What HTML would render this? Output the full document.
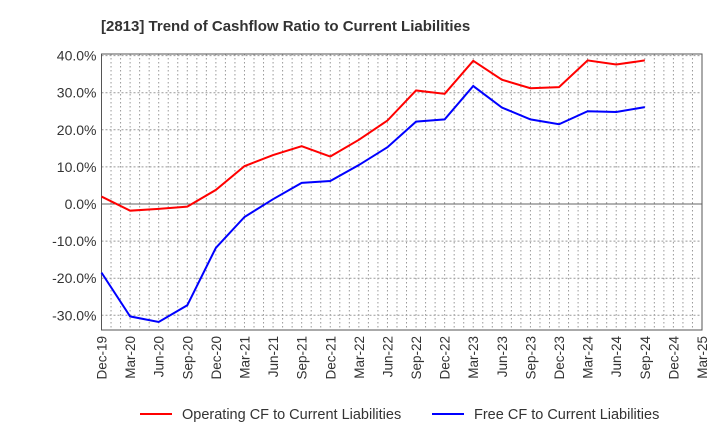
<!DOCTYPE html>
<html><head><meta charset="utf-8"><style>
body{margin:0;background:#fff;font-family:"Liberation Sans",sans-serif}
</style></head><body>
<svg width="720" height="440" xmlns="http://www.w3.org/2000/svg">
<text x="101" y="31" font-size="15" font-weight="bold" fill="#333">[2813]  Trend of Cashflow Ratio to Current Liabilities</text>
<g id="grid"></g><g id="axes"></g><g id="series"></g>
<g>
<line x1="140" y1="414" x2="172" y2="414" stroke="#f00" stroke-width="2"/>
<text x="182" y="419" font-size="14.5" fill="#333">Operating CF to Current Liabilities</text>
<line x1="432" y1="414" x2="464" y2="414" stroke="#00f" stroke-width="2"/>
<text x="474" y="419" font-size="14.5" fill="#333">Free CF to Current Liabilities</text>
</g>
</svg>
<script>
const categories=["Dec-19","Mar-20","Jun-20","Sep-20","Dec-20","Mar-21","Jun-21","Sep-21","Dec-21","Mar-22","Jun-22","Sep-22","Dec-22","Mar-23","Jun-23","Sep-23","Dec-23","Mar-24","Jun-24","Sep-24","Dec-24","Mar-25"];
const operatingCF=[2.0,-1.8,-1.3,-0.7,3.8,10.2,13.2,15.6,12.8,17.3,22.5,30.6,29.7,38.6,33.5,31.2,31.5,38.7,37.6,38.7];
const freeCF=[-18.5,-30.3,-31.8,-27.3,-11.8,-3.5,1.3,5.7,6.2,10.5,15.3,22.2,22.8,31.8,26.0,22.8,21.5,25.0,24.8,26.1];
const yTicks=[40,30,20,10,0,-10,-20,-30];
const L=101.5,R=702,T=54,B=330,Y0=204,K=3.71;
const x=i=>L+i*(R-L)/(categories.length-1);
const y=v=>Y0-v*K;
const NS="http://www.w3.org/2000/svg";
function mk(t,a,p){const e=document.createElementNS(NS,t);for(const k in a)e.setAttribute(k,a[k]);p.appendChild(e);return e;}
const grid=document.getElementById('grid'),axes=document.getElementById('axes'),ser=document.getElementById('series');
for(let m=1;m<(categories.length-1)*3;m++){const xx=L+m*(R-L)/((categories.length-1)*3);
const l=mk('line',{x1:xx,x2:xx,y1:T,y2:B,stroke:'#999','stroke-dasharray':'1.5,2.5','stroke-width':1},grid);

}
yTicks.forEach(v=>{const l=mk('line',{x1:L,x2:R,y1:y(v),y2:y(v),stroke:v===0?'#666':'#999','stroke-dasharray':v===0?'':'2,2','stroke-width':1},grid);


const t=mk('text',{x:L-5,y:y(v)+5,'text-anchor':'end','font-size':14,fill:'#333'},axes);t.textContent=v.toFixed(1)+'%';

});
const fr=mk('rect',{x:L,y:T,width:R-L,height:B-T,fill:'none',stroke:'#555','stroke-width':1},axes);


categories.forEach((c,i)=>{const t=mk('text',{transform:`translate(${x(i)+5},${B+6}) rotate(-90)`,'text-anchor':'end','font-size':13.5,fill:'#333'},axes);t.textContent=c;

});
[[operatingCF,'#f00','operating-cf-line'],[freeCF,'#00f','free-cf-line']].forEach(([d,c,n])=>{
const p=mk('polyline',{points:d.map((v,i)=>x(i)+','+y(v)).join(' '),fill:'none',stroke:c,'stroke-width':2},ser);

});
</script>
</body></html>
